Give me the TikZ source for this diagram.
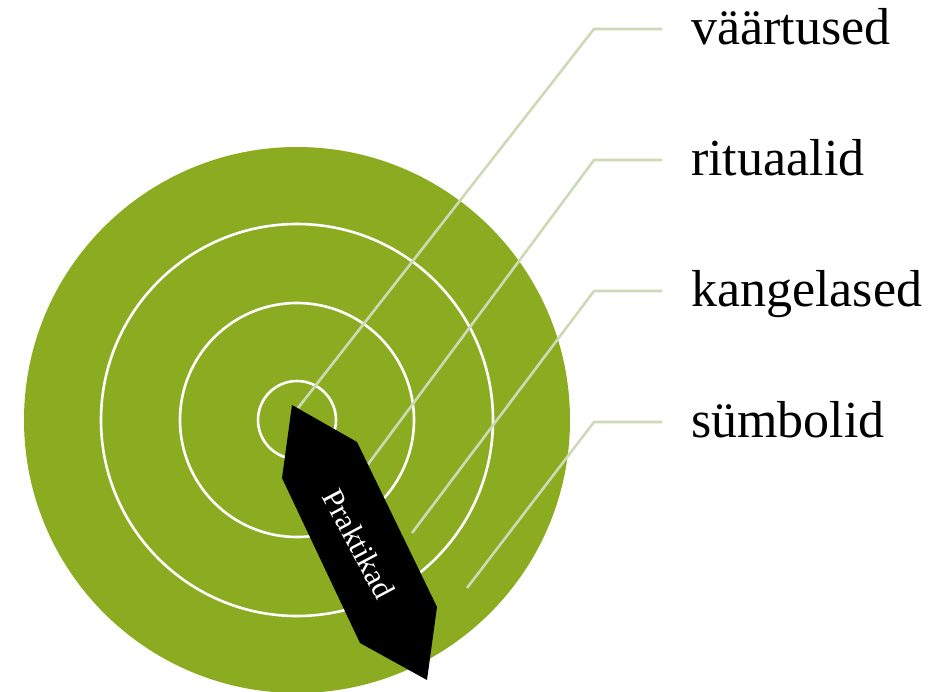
\documentclass[tikz,border=0pt]{standalone}
\usepackage{fontspec}
\setmainfont{Liberation Serif}
\definecolor{ringgreen}{HTML}{8BAC20}
\definecolor{leadline}{HTML}{CCDBB6}
\tikzset{
  ring/.style={draw=white, line width=2.6pt},
  leader/.style={draw=leadline, line width=2.6pt},
  lbl/.style={anchor=base west, inner sep=0pt, font=\fontsize{52}{60}\selectfont},
}
\begin{document}
\begin{tikzpicture}[x=1pt,y=-1pt]
\useasboundingbox (0,0) rectangle (932,691);
\clip (0,0) rectangle (932,691);
\coordinate (c) at (297,420);
\fill[ringgreen] (c) circle[radius=273];
\draw[ring] (c) circle[radius=196];
\draw[ring] (c) circle[radius=117];
\draw[ring] (c) circle[radius=39];
% leader lines
\coordinate (e1) at (298,408); \coordinate (k1) at (594,29); \coordinate (h1) at (662,29);
\coordinate (e2) at (366,467); \coordinate (k2) at (594,160); \coordinate (h2) at (662,160);
\coordinate (e3) at (412,533); \coordinate (k3) at (594,291); \coordinate (h3) at (662,291);
\coordinate (e4) at (467,588); \coordinate (k4) at (594,422); \coordinate (h4) at (662,422);
\draw[leader] (e1) -- (k1) -- (h1);
\draw[leader] (e2) -- (k2) -- (h2);
\draw[leader] (e3) -- (k3) -- (h3);
\draw[leader] (e4) -- (k4) -- (h4);
% arrow shape
\fill[black] (292,405) -- (357,442) -- (437,607) -- (427,680) -- (360,643) -- (282,478) -- cycle;
\node[text=white, rotate=-62, font=\fontsize{31}{34}\selectfont, inner sep=0pt] (prak) at (359,544) {Praktikad};
% labels
\node[lbl] (l1) at (691,44) {väärtused};
\node[lbl] (l2) at (691,175) {rituaalid};
\node[lbl] (l3) at (691,306) {kangelased};
\node[lbl] (l4) at (691,437) {sümbolid};
\end{tikzpicture}
\end{document}
